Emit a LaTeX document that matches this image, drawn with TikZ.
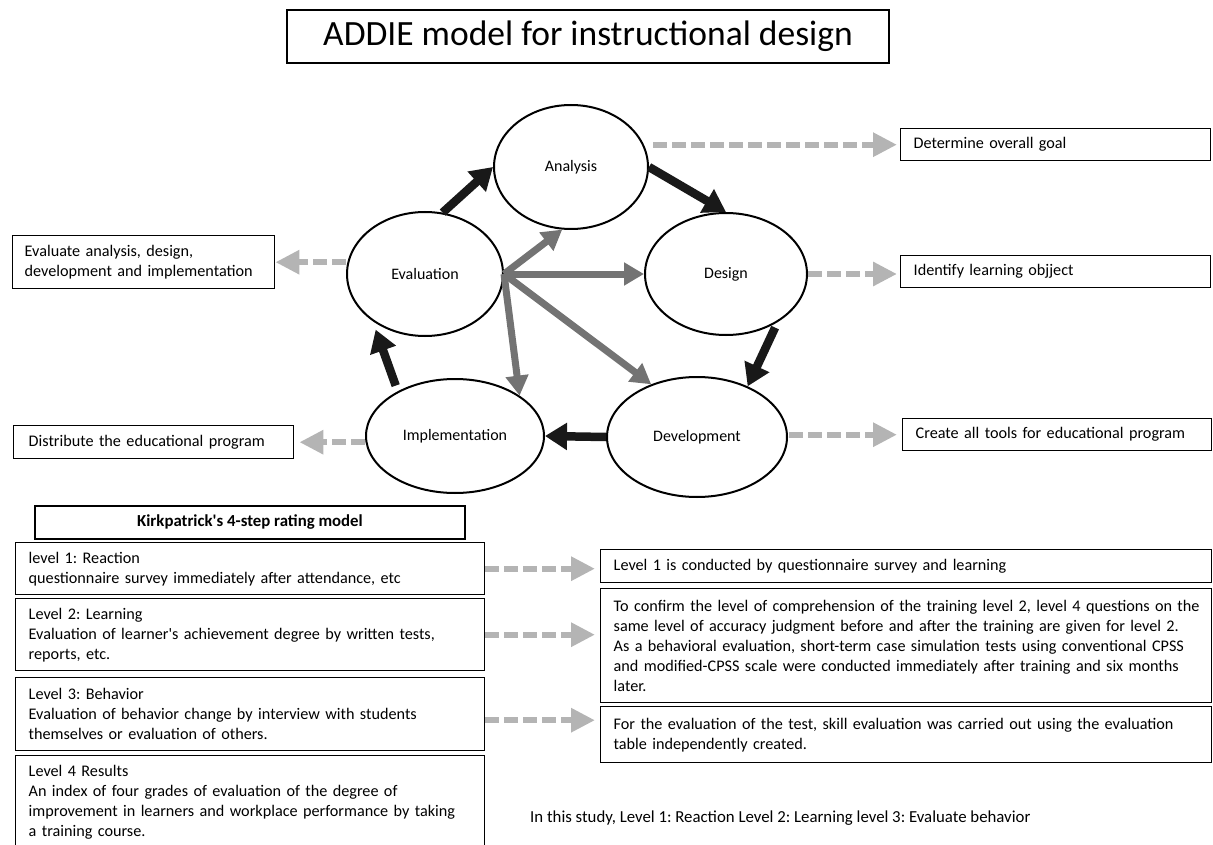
\documentclass[tikz,border=0pt]{standalone}
\usepackage{fontspec}
\setmainfont{Carlito}
\usepackage{tikz}
\usetikzlibrary{shapes.geometric}
\usetikzlibrary{arrows.meta}
\frenchspacing

\definecolor{darkgrey}{HTML}{737373}
\definecolor{lightgrey}{HTML}{B4B4B4}

\tikzset{
    phase/.style={ellipse, draw, line width=2pt, inner sep=0pt, font=\fontsize{16}{19}\selectfont},
    infobox/.style={draw, line width=1.4pt, rectangle, anchor=north west, align=left,
        inner xsep=13pt, inner ysep=0pt, font=\fontsize{16.2}{20}\selectfont},
    cycle/.style={-{Triangle[length=22pt,width=26pt]}, line width=8.5pt, black!90},
    feedback/.style={-{Triangle[length=20pt,width=22pt]}, line width=7pt, darkgrey},
    goesto/.style={-{Triangle[length=24pt,width=23pt]}, line width=6pt, lightgrey,
        dash pattern=on 14pt off 5pt},
}

\begin{document}
\begin{tikzpicture}[x=1pt, y=-1pt]
    \useasboundingbox (0,0) rectangle (1213,845);

    % Title
    \node[draw, line width=2pt, minimum width=602pt, minimum height=53pt,
        font=\fontsize{35.5}{40}\selectfont] (title) at (588,36.5) {ADDIE model for instructional design};

    % ADDIE phases
    \node[phase, minimum width=154pt, minimum height=124pt] (ana) at (571,167) {Analysis};
    \node[phase, minimum width=162pt, minimum height=122pt] (des) at (726,274) {Design};
    \node[phase, minimum width=180pt, minimum height=120pt] (dev) at (697,437) {Development};
    \node[phase, minimum width=178pt, minimum height=114pt] (imp) at (455,436) {Implementation};
    \node[phase, minimum width=156pt, minimum height=124pt] (eva) at (425,274) {Evaluation};

    % Phase outputs
    \node[infobox, text width=284pt, minimum height=32pt] (goal) at (900,128) {Determine overall goal};
    \node[infobox, text width=284pt, minimum height=32pt] (obj) at (900,255) {Identify learning objject};
    \node[infobox, text width=283pt, minimum height=32pt] (tools) at (902,418) {Create all tools for educational program};
    \node[infobox, text width=238pt, minimum height=53pt, inner xsep=12pt] (evalbox) at (12,235)
        {Evaluate analysis, design,\\development and implementation};
    \node[infobox, text width=250pt, minimum height=33pt, inner xsep=15pt] (distr) at (13,425) {Distribute the educational program};

    % Cycle
    \draw[cycle] (eva.74) -- (ana.west);
    \draw[cycle] (ana.east) -- (des.north);
    \draw[cycle, shorten <=6pt] (des.-43) -- (dev.45);
    \draw[cycle] (dev.west) -- (imp.east);
    \draw[cycle, shorten <=6pt, shorten >=9pt] (imp.142) -- (eva.222);

    % Evaluation feeds back to every phase
    \draw[feedback] (eva.east) -- (ana.262);
    \draw[feedback] (eva.east) -- (des.west);
    \draw[feedback] (eva.east) -- (dev.131);
    \draw[feedback] (eva.east) -- (imp.32);

    % Outputs
    \draw[goesto, shorten <=4pt, shorten >=3pt] (ana.east |- goal.west) -- (goal.west);
    \draw[goesto, shorten >=3pt] (des.east) -- (des.east -| obj.west);
    \draw[goesto, shorten <=1pt, shorten >=5pt] (dev.east |- tools.west) -- (tools.west);
    \draw[goesto] (eva.west |- evalbox.east) -- (evalbox.east);
    \draw[goesto, shorten >=5pt] (imp.west |- distr.east) -- (distr.east);

    % Kirkpatrick
    \node[draw, line width=2pt, minimum width=430pt, minimum height=33pt, anchor=north west,
        font=\bfseries\fontsize{16.8}{19}\selectfont] (kirk) at (34,505) {Kirkpatrick\textquotesingle s 4-step rating model};
    \node[infobox, text width=443pt, minimum height=52pt] (lvA) at (15,542)
        {level 1: Reaction\\questionnaire survey immediately after attendance, etc};
    \node[infobox, text width=443pt, minimum height=72pt] (lvB) at (15,598)
        {Level 2: Learning\\Evaluation of learner\textquotesingle s achievement degree by written tests,\\reports, etc.};
    \node[infobox, text width=443pt, minimum height=73pt] (lvC) at (15,677)
        {Level 3: Behavior\\Evaluation of behavior change by interview with students\\themselves or evaluation of others.};
    \node[infobox, text width=443pt, minimum height=94pt] (lvD) at (15,755)
        {Level 4 Results\\An index of four grades of evaluation of the degree of\\improvement in learners and workplace performance by taking\\a training course.};

    % What was done in this study
    \node[infobox, text width=585pt, minimum height=33pt] (resA) at (600,549)
        {Level 1 is conducted by questionnaire survey and learning};
    \node[infobox, text width=585pt, minimum height=114pt] (resB) at (600,588)
        {\mbox{To confirm the level of comprehension of the training level 2, level 4 questions on the}\\
         \mbox{same level of accuracy judgment before and after the training are given for level 2.}\\
         \mbox{As a behavioral evaluation, short-term case simulation tests using conventional CPSS}\\
         and modified-CPSS scale were conducted immediately after training and six months\\
         later.};
    \node[infobox, text width=585pt, minimum height=56pt] (resC) at (600,706)
        {For the evaluation of the test, skill evaluation was carried out using the evaluation\\
         table independently created.};

    \draw[goesto, shorten >=5pt] (lvA.east) -- (lvA.east -| resA.west);
    \draw[goesto, shorten >=5pt] (lvB.east) -- (lvB.east -| resB.west);
    \draw[goesto, shorten >=5pt] ([yshift=-6pt]lvC.east) -- ([yshift=-6pt]lvC.east -| resC.west);

    \node[anchor=west, inner sep=0pt, font=\fontsize{16.8}{20}\selectfont] (note) at (530,818)
        {In this study, Level 1: Reaction Level 2: Learning level 3: Evaluate behavior};
\end{tikzpicture}
\end{document}
